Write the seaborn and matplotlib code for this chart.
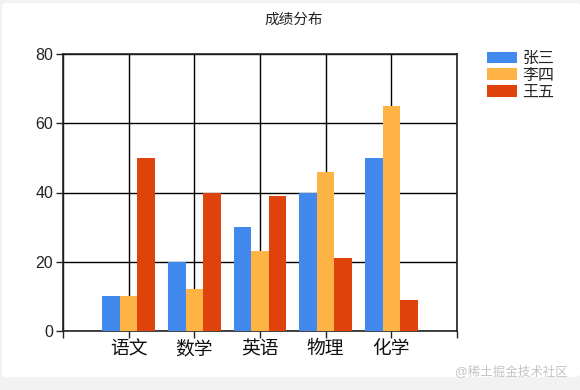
import matplotlib
matplotlib.use("Agg")
import matplotlib.pyplot as plt
from matplotlib.patches import FancyBboxPatch
import seaborn as sns
import pandas as pd

title = "成绩分布"
subjects = ["语文", "数学", "英语", "物理", "化学"]
names = ["张三", "李四", "王五"]
zhangsan = [10, 20, 30, 40, 50]
lisi = [10, 12, 23, 46, 65]
wangwu = [50, 40, 39, 21, 9]
colors = ["#4189EC", "#FDB445", "#DF420A"]
yticks = [0, 20, 40, 60, 80]

sns.set_theme(style="white")
plt.rcParams["font.family"] = ["Liberation Sans", "Noto Sans CJK SC", "DejaVu Sans"]

rows = []
for name, vals in zip(names, [zhangsan, lisi, wangwu]):
    for s, v in zip(subjects, vals):
        rows.append({"科目": s, "姓名": name, "分数": v})
df = pd.DataFrame(rows)

W, H = 580, 390
fig = plt.figure(figsize=(W / 100, H / 100), dpi=100, facecolor="#f2f2f2")
card = FancyBboxPatch((2 / W, 13 / H), (W - 2) / W, (H - 16) / H,
                      boxstyle="round,pad=0,rounding_size=0.008",
                      transform=fig.transFigure, facecolor="white",
                      edgecolor="none", zorder=-10)
fig.patches.append(card)

ax = fig.add_axes([63 / W, (H - 331) / H, (457 - 63) / W, (331 - 54) / H])
ax.set_zorder(5)
ax.set_facecolor("white")
sns.barplot(data=df, x="科目", y="分数", hue="姓名", order=subjects,
            hue_order=names, palette=colors, width=0.8, saturation=1,
            linewidth=0, ax=ax, zorder=3)

ax.set_xlim(-1, 5)
ax.set_ylim(0, 80)
ax.set_yticks(yticks)
ax.set_yticklabels([str(t) for t in yticks], fontsize=11.5, color="#222222")
ax.set_xticks(range(-1, 6))
ax.set_xticklabels([""] + subjects + [""], fontsize=13.5, color="#111111")
ax.set_xlabel("")
ax.set_ylabel("")
ax.grid(True, color="black", linewidth=1, zorder=1)
ax.set_axisbelow(True)
for sp in ax.spines.values():
    sp.set_visible(True)
    sp.set_color("#222222")
    sp.set_linewidth(1.2)
ax.tick_params(axis="both", which="both", length=5, width=1, color="#222222",
               direction="out", bottom=True, left=True, pad=2)

ax.legend(loc="upper left", bbox_to_anchor=(487 / W, 1 - 51 / H),
          bbox_transform=fig.transFigure, frameon=False, fontsize=11.5,
          handlelength=1.9, handleheight=0.75, labelspacing=0.12,
          handletextpad=0.3, borderpad=0, borderaxespad=0)

fig.text(294 / W, 1 - 20 / H, title, ha="center", va="center", fontsize=10.5,
         color="#222222")
fig.text(568 / W, 1 - 372 / H, "@稀土掘金技术社区", ha="right", va="center",
         fontsize=9, color="#c4c4c4")

fig.savefig("out.png", dpi=100, facecolor=fig.get_facecolor())
